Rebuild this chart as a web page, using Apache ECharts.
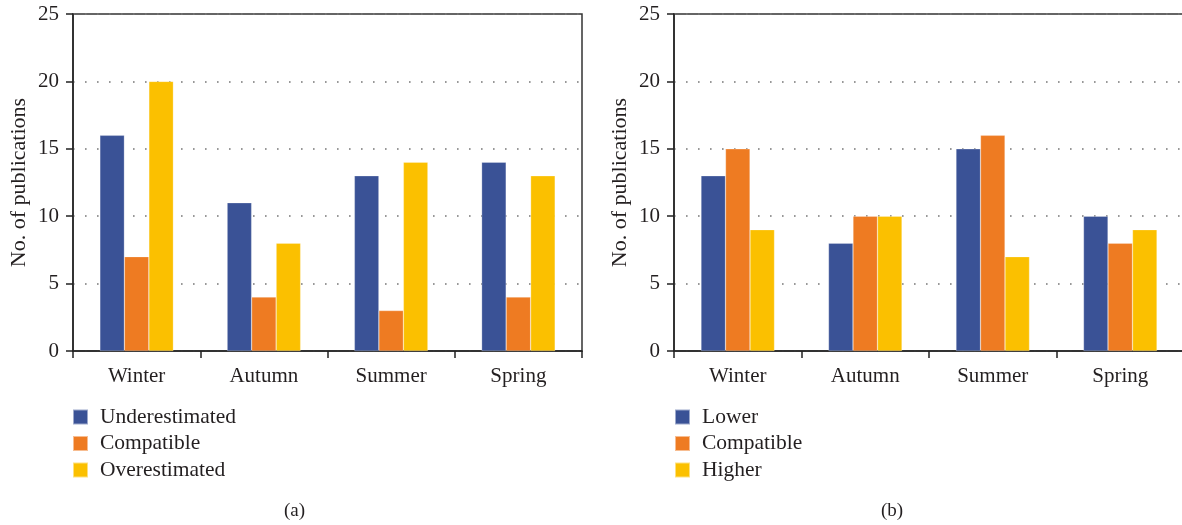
<!DOCTYPE html>
<html>
<head>
<meta charset="utf-8">
<script src="https://cdn.jsdelivr.net/npm/echarts@6/dist/echarts.min.js"></script>
<style>html,body{margin:0;padding:0;background:#fff;}#c{width:1182px;height:525px;}</style>
</head>
<body>
<div id="c"></div>
<script>
const categories = ['Winter', 'Autumn', 'Summer', 'Spring'];
const yTicks = [0, 5, 10, 15, 20, 25];
// Panel (a)
const aNames = ['Underestimated', 'Compatible', 'Overestimated'];
const aUnderestimated = [16, 11, 13, 14];
const aCompatible = [7, 4, 3, 4];
const aOverestimated = [20, 8, 14, 13];
// Panel (b)
const bNames = ['Lower', 'Compatible', 'Higher'];
const bLower = [13, 8, 15, 10];
const bCompatible = [15, 10, 16, 8];
const bHigher = [9, 10, 7, 9];
const colors = ['#3A5296', '#EE7B22', '#FBC000'];

const FONT = '"Liberation Serif", "DejaVu Serif", serif';
const TXT = '#231F20';

function xAxis(gi) {
  return {
    type: 'category', gridIndex: gi, data: categories,
    axisLine: {lineStyle: {color: '#222', width: 1.5}},
    axisTick: {show: true, length: 7, lineStyle: {color: '#222', width: 1.5}},
    axisLabel: {fontFamily: FONT, fontSize: 21, color: TXT, margin: 15},
    splitLine: {show: false}
  };
}
function yAxis(gi) {
  return {
    type: 'value', gridIndex: gi, min: yTicks[0], max: yTicks[yTicks.length - 1], interval: 5,
    name: 'No. of publications', nameLocation: 'middle', nameGap: 43,
    nameTextStyle: {fontFamily: FONT, fontSize: 22, color: TXT},
    axisLine: {show: true, lineStyle: {color: '#222', width: 1.5}},
    axisTick: {show: true, length: 7, lineStyle: {color: '#222', width: 1.5}},
    axisLabel: {fontFamily: FONT, fontSize: 21, color: TXT, margin: 14},
    splitLine: {show: true, lineStyle: {color: '#777', width: 1.6, type: [1.6, 10.4]}}
  };
}
function bar(name, data, color, gi) {
  return {
    type: 'bar', name: name, data: data, xAxisIndex: gi, yAxisIndex: gi,
    barWidth: 24.5, barGap: '0%',
    itemStyle: {color: color, borderColor: 'rgba(255,255,255,0.5)', borderWidth: 0.5},
    emphasis: {disabled: true}
  };
}
function legend(names, left) {
  return {
    orient: 'vertical', left: left, top: 406, padding: 0,
    itemWidth: 15, itemHeight: 15, itemGap: 4.5,
    icon: 'rect', data: names,
    textStyle: {fontFamily: FONT, fontSize: 21.5, color: TXT, padding: [0, 0, 0, 7]},
    selectedMode: false
  };
}

const chart = echarts.init(document.getElementById('c'), null, {renderer: 'canvas'});
chart.setOption({
  animation: false,
  backgroundColor: '#fff',
  grid: [
    {left: 73, top: 14, width: 509, height: 337, show: true, borderColor: '#333', borderWidth: 1.5, outerBoundsMode: 'none'},
    {left: 674, top: 14, width: 510, height: 337, show: true, borderColor: '#333', borderWidth: 1.5, outerBoundsMode: 'none'}
  ],
  xAxis: [xAxis(0), xAxis(1)],
  yAxis: [yAxis(0), yAxis(1)],
  legend: [legend(aNames, 72), legend(bNames, 674)],
  series: [
    bar(aNames[0], aUnderestimated, colors[0], 0),
    bar(aNames[1], aCompatible, colors[1], 0),
    bar(aNames[2], aOverestimated, colors[2], 0),
    bar(bNames[0], bLower, colors[0], 1),
    bar(bNames[1], bCompatible, colors[1], 1),
    bar(bNames[2], bHigher, colors[2], 1)
  ],
  graphic: [
    {type: 'text', left: 284, top: 502, style: {text: '(a)', font: '19px ' + FONT, fill: TXT}},
    {type: 'text', left: 881, top: 502, style: {text: '(b)', font: '19px ' + FONT, fill: TXT}}
  ]
});
</script>
</body>
</html>
